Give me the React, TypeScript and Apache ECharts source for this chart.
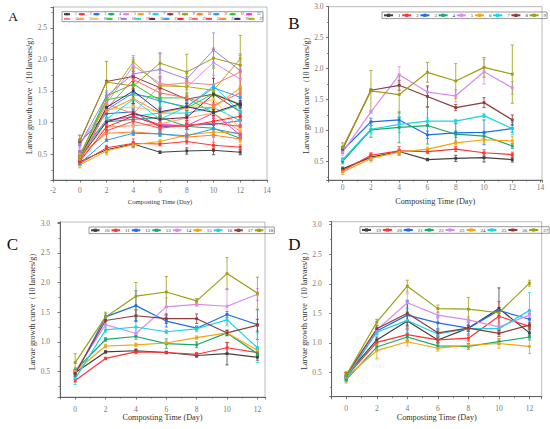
import React, { useEffect, useRef } from "react";
import * as echarts from "echarts";

// ---------------- data ----------------
const days = [0, 2, 4, 6, 8, 10, 12];

const labelsB = ["1", "2", "3", "4", "5", "6", "7", "8", "9"];
const labelsC = ["10", "11", "12", "13", "14", "15", "16", "17", "18"];
const labelsD = ["19", "20", "21", "22", "23", "24", "25", "26", "27"];

const meanB = [
  [0.38, 0.57, 0.66, 0.53, 0.55, 0.56, 0.53],
  [0.35, 0.6, 0.67, 0.66, 0.7, 0.64, 0.61],
  [0.68, 1.14, 1.17, 0.93, 0.96, 0.97, 1.03],
  [0.5, 1.01, 1.05, 1.08, 0.94, 0.91, 0.75],
  [0.65, 1.3, 1.9, 1.62, 1.56, 1.95, 1.69],
  [0.33, 0.55, 0.65, 0.7, 0.8, 0.85, 0.83],
  [0.53, 1.02, 1.1, 1.15, 1.15, 1.24, 1.03],
  [0.7, 1.65, 1.73, 1.55, 1.37, 1.45, 1.17],
  [0.72, 1.64, 1.58, 1.94, 1.8, 2.02, 1.91],
];
const errB = [
  [0.03, 0.05, 0.04, 0.02, 0.05, 0.07, 0.04],
  [0.03, 0.04, 0.07, 0.03, 0.04, 0.05, 0.04],
  [0.05, 0.06, 0.04, 0.06, 0.15, 0.2, 0.06],
  [0.04, 0.12, 0.25, 0.3, 0.05, 0.05, 0.04],
  [0.05, 0.02, 0.13, 0.08, 0.1, 0.2, 0.1],
  [0.04, 0.06, 0.04, 0.03, 0.03, 0.05, 0.07],
  [0.03, 0.06, 0.13, 0.05, 0.03, 0.03, 0.1],
  [0.04, 0.02, 0.08, 0.17, 0.05, 0.08, 0.08],
  [0.08, 0.33, 0.3, 0.16, 0.28, 0.16, 0.47],
];

const meanC = [
  [0.48, 0.83, 0.85, 0.82, 0.77, 0.8, 0.74],
  [0.35, 0.72, 0.83, 0.82, 0.79, 0.9, 0.82],
  [0.45, 1.42, 1.61, 1.35, 1.23, 1.46, 1.29],
  [0.52, 1.04, 1.09, 0.97, 0.95, 1.15, 0.8],
  [0.5, 1.29, 1.14, 1.59, 1.63, 1.6, 1.8],
  [0.5, 0.93, 0.95, 0.98, 1.07, 1.15, 0.86],
  [0.38, 1.2, 1.25, 1.17, 1.22, 1.37, 0.9],
  [0.47, 1.36, 1.44, 1.39, 1.39, 1.15, 1.28],
  [0.65, 1.42, 1.77, 1.84, 1.69, 2.15, 1.82],
];
const errC = [
  [0.03, 0.02, 0.03, 0.02, 0.03, 0.19, 0.05],
  [0.03, 0.02, 0.03, 0.02, 0.03, 0.09, 0.05],
  [0.04, 0.05, 0.25, 0.1, 0.03, 0.05, 0.25],
  [0.04, 0.03, 0.05, 0.08, 0.05, 0.05, 0.05],
  [0.03, 0.1, 0.1, 0.15, 0.03, 0.3, 0.1],
  [0.03, 0.03, 0.03, 0.03, 0.03, 0.03, 0.05],
  [0.1, 0.05, 0.15, 0.03, 0.05, 0.1, 0.25],
  [0.05, 0.06, 0.1, 0.08, 0.08, 0.04, 0.1],
  [0.15, 0.08, 0.23, 0.26, 0.04, 0.27, 0.27],
];

const meanD = [
  [0.45, 1.05, 1.37, 1.05, 1.25, 1.58, 1.17],
  [0.43, 1.01, 1.14, 1.05, 1.08, 1.45, 1.28],
  [0.4, 1.2, 1.47, 1.34, 1.25, 1.55, 1.4],
  [0.38, 0.93, 1.1, 0.95, 0.94, 1.02, 1.1],
  [0.45, 1.22, 1.68, 1.47, 1.39, 1.27, 1.47],
  [0.42, 0.87, 1.02, 0.91, 0.96, 0.99, 0.94],
  [0.42, 1.18, 1.38, 1.15, 1.24, 1.24, 1.55],
  [0.45, 1.24, 1.5, 1.17, 1.25, 1.16, 1.3],
  [0.45, 1.35, 1.96, 1.58, 1.57, 1.51, 2.01],
];
const errD = [
  [0.05, 0.05, 0.1, 0.05, 0.05, 0.35, 0.05],
  [0.05, 0.05, 0.1, 0.05, 0.05, 0.25, 0.05],
  [0.04, 0.05, 0.25, 0.1, 0.1, 0.05, 0.1],
  [0.04, 0.05, 0.05, 0.05, 0.05, 0.05, 0.05],
  [0.05, 0.05, 0.15, 0.05, 0.05, 0.05, 0.05],
  [0.1, 0.14, 0.07, 0.05, 0.07, 0.08, 0.12],
  [0.05, 0.05, 0.2, 0.05, 0.05, 0.05, 0.3],
  [0.05, 0.05, 0.2, 0.05, 0.05, 0.05, 0.05],
  [0.05, 0.05, 0.1, 0.06, 0.2, 0.05, 0.05],
];

const colorsNine = [
  "#404040", "#FF3333", "#1E6FE6", "#17A86B", "#D98BEB",
  "#F2A50C", "#18D4E0", "#8E3B3B", "#9E9E10",
];
const colorsAll = [
  "#404040", "#FF3333", "#1E6FE6", "#17A86B", "#D98BEB", "#F2A50C", "#18D4E0",
  "#8E3B3B", "#9E9E10", "#FF7F27", "#3399E6", "#22CC22", "#FF33CC", "#FF8080",
  "#FF9F60", "#FFBF60", "#33CC44", "#A080E6", "#22DDDD", "#7F1F3F", "#3399FF",
  "#FF2222", "#FF6666", "#FF4455", "#FF8C1A", "#3F2F7F", "#B0B010",
];

const yTitle = "Larvae growth curve（10 larvaes/g）";
const xTitle = "Composting Time (Day)";

// ---------------- layout ----------------
const FONT = '"Liberation Serif", "Times New Roman", serif';

type Panel = {
  key: string;
  labels: string[];
  means: number[][];
  errs: number[][];
  colors: string[];
  grid: any;
  x: any;
  y: any;
  yGap: number;
  xGap: number;
  xNameSize: number;
  lw: number;
};

const panels: Panel[] = [
  {
    key: "A",
    labels: [...labelsB, ...labelsC, ...labelsD],
    means: [...meanB, ...meanC, ...meanD],
    errs: [...errB, ...errC, ...errD],
    colors: colorsAll,
    grid: { left: 53, top: 7, width: 214, height: 173 },
    x: { min: -2, max: 14, split: 8, showMin: true, showMax: true, margin: 6 },
    y: { min: 0.09, max: 2.83, showMax: false, margin: 6 },
    yGap: 19,
    xGap: 17.5,
    xNameSize: 6.6,
    lw: 1,
  },
  {
    key: "B",
    labels: labelsB,
    means: meanB,
    errs: errB,
    colors: colorsNine,
    grid: { left: 328.5, top: 6.7, width: 213.5, height: 173.3 },
    x: { min: -1, max: 14.1, split: 7, showMin: false, showMax: false, margin: 3 },
    y: { min: 0.2, max: 3.0, showMax: true, margin: 5 },
    yGap: 18,
    xGap: 17.5,
    xNameSize: 8.2,
    lw: 1.2,
  },
  {
    key: "C",
    labels: labelsC,
    means: meanC,
    errs: errC,
    colors: colorsNine,
    grid: { left: 60, top: 222, width: 205, height: 175 },
    x: { min: -1, max: 12.5, split: 7, showMin: false, showMax: false, margin: 8 },
    y: { min: 0.07, max: 3.02, showMax: false, margin: 10 },
    yGap: 19.3,
    xGap: 16,
    xNameSize: 8.2,
    lw: 1.2,
  },
  {
    key: "D",
    labels: labelsD,
    means: meanD,
    errs: errD,
    colors: colorsNine,
    grid: { left: 331.7, top: 221.7, width: 210, height: 175 },
    x: { min: -0.95, max: 12.8, split: 7, showMin: false, showMax: false, margin: 8 },
    y: { min: 0.09, max: 3.05, showMax: false, margin: 10 },
    yGap: 19.4,
    xGap: 16.5,
    xNameSize: 8.2,
    lw: 1.2,
  },
];

const legendLayouts: any[] = [
  { panel: 0, from: 0, to: 13, left: 63, top: 12.2, itemWidth: 6, itemGap: 1.0, fontSize: 3.5, border: false },
  { panel: 0, from: 13, to: 27, left: 63, top: 16.9, itemWidth: 6, itemGap: -1.3, fontSize: 3.5, border: false },
  { panel: 1, from: 0, to: 9, left: 382, top: 12, itemWidth: 9, itemGap: 0.7, fontSize: 5, border: true },
  { panel: 2, from: 0, to: 9, left: 89, top: 227, itemWidth: 8.5, itemGap: 1, fontSize: 5, border: true },
  { panel: 3, from: 0, to: 9, left: 360, top: 226.7, itemWidth: 9, itemGap: 0.9, fontSize: 5, border: true },
];

const letters = [
  { text: "A", x: 8.3, y: 16.2, size: 13.5 },
  { text: "B", x: 288.3, y: 23, size: 17 },
  { text: "C", x: 6.7, y: 244.2, size: 17 },
  { text: "D", x: 288.3, y: 244.2, size: 17 },
];

function buildOption() {
  const axisColor = "#555";
  const grid: any[] = [];
  const xAxis: any[] = [];
  const yAxis: any[] = [];
  const series: any[] = [];

  panels.forEach((p, pi) => {
    grid.push({
      ...p.grid,
      show: true,
      borderColor: "#aaa",
      borderWidth: 0.8,
      backgroundColor: "transparent",
      containLabel: false,
    });
    xAxis.push({
      type: "value",
      gridIndex: pi,
      min: p.x.min,
      max: p.x.max,
      splitNumber: p.x.split,
      name: xTitle,
      nameLocation: "middle",
      nameGap: p.xGap,
      nameTextStyle: { fontFamily: FONT, fontSize: p.xNameSize, color: "#333", verticalAlign: "top" },
      axisLine: { show: true, onZero: false, lineStyle: { color: axisColor, width: 0.9 } },
      axisTick: { show: true, inside: false, length: 2.5, lineStyle: { color: axisColor, width: 0.8 } },
      minorTick: { show: true, splitNumber: 2, length: 1.5, lineStyle: { color: axisColor, width: 0.7 } },
      splitLine: { show: false },
      minorSplitLine: { show: false },
      axisLabel: {
        fontFamily: FONT,
        fontSize: 7.5,
        color: "#777",
        margin: p.x.margin,
        showMinLabel: p.x.showMin,
        showMaxLabel: p.x.showMax,
        formatter: (v: number) => String(Math.round(v)),
      },
    });
    yAxis.push({
      type: "value",
      gridIndex: pi,
      min: p.y.min,
      max: p.y.max,
      splitNumber: 5,
      name: yTitle,
      nameLocation: "middle",
      nameGap: p.yGap,
      nameTextStyle: { fontFamily: FONT, fontSize: 8, color: "#333" },
      axisLine: { show: true, onZero: false, lineStyle: { color: axisColor, width: 0.9 } },
      axisTick: { show: true, inside: false, length: 2.5, lineStyle: { color: axisColor, width: 0.8 } },
      minorTick: { show: true, splitNumber: 2, length: 1.5, lineStyle: { color: axisColor, width: 0.7 } },
      splitLine: { show: false },
      minorSplitLine: { show: false },
      axisLabel: {
        fontFamily: FONT,
        fontSize: 7.5,
        color: "#777",
        margin: p.y.margin,
        showMinLabel: false,
        showMaxLabel: p.y.showMax,
        formatter: (v: number) => v.toFixed(1),
      },
    });

    // error bars
    const errData: number[][] = [];
    p.means.forEach((row, si) => {
      row.forEach((m, di) => {
        errData.push([days[di], m, p.errs[si][di], si]);
      });
    });
    const cols = p.colors;
    series.push({
      type: "custom",
      name: p.key + "-err",
      xAxisIndex: pi,
      yAxisIndex: pi,
      data: errData,
      encode: { x: 0, y: 1 },
      silent: true,
      z: 2,
      clip: true,
      renderItem: (_params: any, api: any) => {
        const x = api.value(0);
        const y = api.value(1);
        const e = api.value(2);
        const c = cols[api.value(3)];
        const t = api.coord([x, y + e]);
        const b = api.coord([x, y - e]);
        const hw = 1.6;
        const st = { stroke: c, lineWidth: 0.8, fill: "none" };
        return {
          type: "group",
          children: [
            { type: "line", shape: { x1: t[0], y1: t[1], x2: b[0], y2: b[1] }, style: st },
            { type: "line", shape: { x1: t[0] - hw, y1: t[1], x2: t[0] + hw, y2: t[1] }, style: st },
            { type: "line", shape: { x1: b[0] - hw, y1: b[1], x2: b[0] + hw, y2: b[1] }, style: st },
          ],
        };
      },
    });

    p.means.forEach((row, si) => {
      const c = p.colors[si];
      series.push({
        type: "line",
        name: p.key + p.labels[si],
        xAxisIndex: pi,
        yAxisIndex: pi,
        data: row.map((m, di) => [days[di], m]),
        symbol: "rect",
        symbolSize: 2.8,
        showSymbol: true,
        lineStyle: { width: p.lw, color: c },
        itemStyle: { color: c },
        emphasis: { disabled: true },
        silent: true,
        z: 3,
      });
    });
  });

  const legend = legendLayouts.map((L) => {
    const p = panels[L.panel];
    return {
      show: true,
      data: p.labels.slice(L.from, L.to).map((l) => p.key + l),
      left: L.left,
      top: L.top,
      width: 480,
      orient: "horizontal",
      itemWidth: L.itemWidth,
      itemHeight: L.fontSize * 0.8,
      itemGap: L.itemGap,
      padding: L.border ? [0.8, 1] : 0,
      borderColor: L.border ? "#555" : "transparent",
      borderWidth: L.border ? 0.6 : 0,
      selectedMode: false,
      formatter: (n: string) => n.slice(1),
      textStyle: { fontFamily: FONT, fontSize: L.fontSize, color: "#333" },
    };
  });

  const graphic: any[] = [
    {
      type: "rect",
      shape: { x: 62, y: 11.7, width: 201, height: 10 },
      style: { fill: "none", stroke: "#555", lineWidth: 0.6 },
      silent: true,
      z: 10,
    },
    ...letters.map((l) => ({
      type: "text",
      x: l.x,
      y: l.y,
      silent: true,
      style: {
        text: l.text,
        font: `${l.size}px ${FONT}`,
        fill: "#111",
        textAlign: "left",
        textVerticalAlign: "middle",
        verticalAlign: "middle",
      },
    })),
  ];

  return {
    animation: false,
    backgroundColor: "#fff",
    grid,
    xAxis,
    yAxis,
    legend,
    graphic,
    series,
  };
}

export default function App() {
  const ref = useRef<HTMLDivElement>(null);
  useEffect(() => {
    document.body.style.margin = "0";
    if (!ref.current) return;
    const chart = echarts.init(ref.current, undefined, { renderer: "svg" });
    chart.setOption(buildOption() as any);
    return () => chart.dispose();
  }, []);
  return <div ref={ref} style={{ width: 550, height: 429 }} />;
}
